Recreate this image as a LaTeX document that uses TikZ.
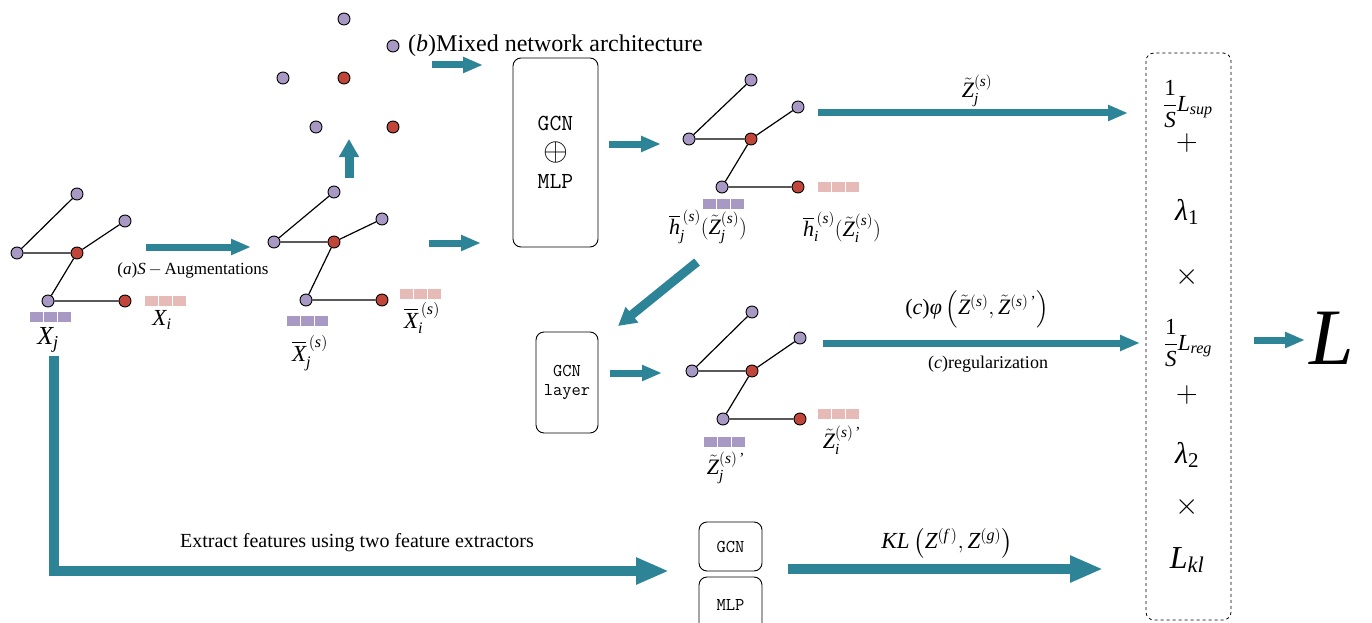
\RequirePackage{fix-cm}
\documentclass[tikz,border=0pt]{standalone}
\usepackage{amsmath}
\usepackage{fontspec}
\setmainfont{Liberation Serif}
\usetikzlibrary{arrows.meta}
\definecolor{teal2}{RGB}{46,132,151}
\definecolor{pur}{RGB}{168,153,196}
\definecolor{red2}{RGB}{192,70,58}
\definecolor{pink2}{RGB}{230,186,182}
\newcommand{\fsz}[1]{\fontsize{#1}{#1}\selectfont}
\newcommand{\mi}[1]{\text{\normalfont\itshape #1}}
\newcommand{\mr}[1]{\text{\normalfont #1}}
\newcommand{\tZ}{\tilde{\mi{Z}\kern1pt}\kern-1pt}
\newcommand{\mygraph}[7]{%
  \node[pn] (#1l) at (#2) {};
  \node[pn] (#1t) at (#3) {};
  \node[pn] (#1u) at (#4) {};
  \node[rn] (#1c) at (#5) {};
  \node[pn] (#1b) at (#6) {};
  \node[rn] (#1r) at (#7) {};
  \draw[edge] (#1l)--(#1t) (#1l)--(#1c) (#1c)--(#1u) (#1c)--(#1b) (#1b)--(#1r);
}
\newcommand{\fbar}[3]{%
  \foreach \k in {0,1,2}{\fill[#3] ({#1+\k*14},#2) rectangle ++(13,10);}%
}
\tikzset{
  pn/.style={circle,draw=black,fill=pur,line width=0.9pt,minimum size=12pt,inner sep=0pt},
  rn/.style={pn,fill=red2},
  edge/.style={line width=1.2pt},
  tarrow/.style={draw=teal2,line width=7pt,-{Triangle[length=20pt,width=15pt]}},
  marrow/.style={draw=teal2,line width=9pt,-{Triangle[length=18pt,width=19pt]}},
  barrow/.style={draw=teal2,line width=10pt,line join=miter,-{Triangle[length=33pt,width=25pt]}},
  box/.style={draw,rounded corners=8pt,line width=0.9pt,font=\ttfamily,align=center,inner sep=0pt},
  lbl/.style={inner sep=0pt},
}
\begin{document}
\begin{tikzpicture}[x=1pt,y=-1pt]
\useasboundingbox (0,0) rectangle (1372,623);
\clip (0,0) rectangle (1372,623);
% graphs
\mygraph{a}{17,253}{77,194}{125,221}{77,253}{48,301}{125,301}
\mygraph{b}{274,242}{334,192}{382,219}{334,242}{306,300}{382,300}
\mygraph{c}{689,139}{751,80}{798,107}{751,139}{722,187}{798,187}
\mygraph{d}{692,371}{752,312}{800,338}{752,371}{723,419}{800,419}
% scattered nodes
\node[pn] (s1) at (344,19) {};
\node[pn] (s2) at (393,46) {};
\node[pn] (s3) at (283,78) {};
\node[rn] (s4) at (344,78) {};
\node[pn] (s5) at (316,127) {};
\node[rn] (s6) at (393,127) {};
% bars
\fbar{30}{312}{pur}\fbar{145}{296}{pink2}
\fbar{287}{316}{pur}\fbar{400}{289}{pink2}
\fbar{703}{199}{pur}\fbar{818}{182}{pink2}
\fbar{704}{437}{pur}\fbar{818}{409}{pink2}
% labels of graphs
\node[lbl] (xj) at (48,340) {\fsz{26}$\mi{X}_{\mi{j}}$};
\node[lbl] (xi) at (162,320) {\fsz{23}$\mi{X}_{\mi{i}}$};
\node[lbl] (xbj) at (310,353) {\fsz{23}$\overline{\mi{X}}_{\mi{j}}^{\,(\mi{s})}$};
\node[lbl] (xbi) at (422,318) {\fsz{23}$\overline{\mi{X}}_{\mi{i}}^{\,(\mi{s})}$};
\node[lbl] (hj) at (708,227) {\fsz{22}$\overline{\mi{h}}_{\mi{j}}^{\,(\mi{s})}(\tZ_{\mi{j}}^{(\mi{s})})$};
\node[lbl] (hi) at (842,227) {\fsz{22}$\overline{\mi{h}}_{\mi{i}}^{\,(\mi{s})}(\tZ_{\mi{i}}^{(\mi{s})})$};
\node[lbl] (zj) at (726,468) {\fsz{22}$\tZ_{\mi{j}}^{(\mi{s})\,\text{'}}$};
\node[lbl] (zi) at (842,440) {\fsz{22}$\tZ_{\mi{i}}^{(\mi{s})\,\text{'}}$};
% texts
\node[lbl,anchor=west] (tb) at (408,46) {\fsz{24}(\textit{b})Mixed network architecture};
\node[lbl] (ta) at (193,270) {\fsz{17}(\textit{a})\textit{S}\,$-$\,Augmentations};
% boxes
\node[box,minimum width=85pt,minimum height=189pt] (mix) at (555.5,152.5) {\fsz{23}GCN\\[10pt]{\fsz{32}$\oplus$}\\[10pt]\fsz{23}MLP};
\node[box,minimum width=62pt,minimum height=101pt] (gl) at (567,382.5) {\fsz{18}GCN\\[7pt]\fsz{18}layer};
\node[box,minimum width=63pt,minimum height=49pt] (g2) at (730.5,546.5) {\fsz{18}GCN};
\node[box,minimum width=63pt,minimum height=56pt] (m2) at (730.5,605) {\fsz{18}MLP};
% arrows
\coordinate (a1s) at (146,247); \coordinate (a1e) at (251,247);
\draw[tarrow] (a1s) -- (a1e);
\coordinate (upS) at (349,178); \coordinate (upE) at (349,139);
\draw[marrow] (upS) -- (upE);
\coordinate (b1s) at (432,65); \coordinate (b1e) at (483,65);
\draw[tarrow] (b1s) -- (b1e);
\coordinate (b2s) at (429,243); \coordinate (b2e) at (481,243);
\draw[tarrow] (b2s) -- (b2e);
\coordinate (c1s) at (609,144); \coordinate (c1e) at (661,144);
\draw[tarrow] (c1s) -- (c1e);
\coordinate (dgs) at (697,262); \coordinate (dge) at (618,326);
\draw[marrow] (dgs) -- (dge);
\coordinate (d1s) at (610,373); \coordinate (d1e) at (662,373);
\draw[tarrow] (d1s) -- (d1e);
% long arrows
\coordinate (z1s) at (818,113); \coordinate (z1e) at (1128,113);
\draw[tarrow] (z1s) -- (z1e);
\node[lbl] (zjl) at (977,91) {\fsz{22}$\tZ_{\mi{j}}^{(\mi{s})}$};
\coordinate (r1s) at (823,343); \coordinate (r1e) at (1140,343);
\draw[tarrow] (r1s) -- (r1e);
\node[lbl] (phi) at (977,309) {\fsz{22}(\textit{c})$\mi{φ}\left(\tZ^{(\mi{s})},\tZ^{(\mi{s})\,\text{'}}\right)$};
\node[lbl] (reg) at (988,364) {\fsz{18}(\textit{c})regularization};
% bottom
\coordinate (v0) at (54,356); \coordinate (v1) at (669,571);
\draw[barrow] (v0) |- (v1);
\node[lbl] (ext) at (357,543) {\fsz{20}Extract features using two feature extractors};
\coordinate (k1s) at (788,569); \coordinate (k1e) at (1103,569);
\draw[barrow] (k1s) -- (k1e);
\node[lbl] (kl) at (947,543) {\fsz{23}$\mi{KL}\left(\mi{Z}^{(\mi{f}\,)},\mi{Z}^{(\mi{g})}\right)$};
% loss box
\draw[dashed,rounded corners=8pt,line width=0.8pt] (1146,53) rectangle (1231,620);
\node[lbl] (l1) at (1188,104) {\fsz{23}$\dfrac{\mr{1}}{\mi{S}}\mi{L}_{\mi{sup}}$};
\node[lbl] (p1) at (1187,143) {\fsz{30}$+$};
\node[lbl] (lam1) at (1187,212) {\fsz{30}$\mi{λ}_{\mr{1}}$};
\node[lbl] (t1) at (1187,277) {\fsz{30}$\times$};
\node[lbl] (l2) at (1188,343) {\fsz{23}$\dfrac{\mr{1}}{\mi{S}}\mi{L}_{\mi{reg}}$};
\node[lbl] (p2) at (1187,395) {\fsz{30}$+$};
\node[lbl] (lam2) at (1187,455) {\fsz{30}$\mi{λ}_{\mr{2}}$};
\node[lbl] (t2) at (1187,507) {\fsz{30}$\times$};
\node[lbl] (lkl) at (1187,560) {\fsz{32}$\mi{L}_{\mi{kl}}$};
\coordinate (fs) at (1254,340); \coordinate (fe) at (1305,340);
\draw[tarrow] (fs) -- (fe);
\node[lbl] (LL) at (1332,338) {\fsz{80}\textit{L}};
\end{tikzpicture}
\end{document}
